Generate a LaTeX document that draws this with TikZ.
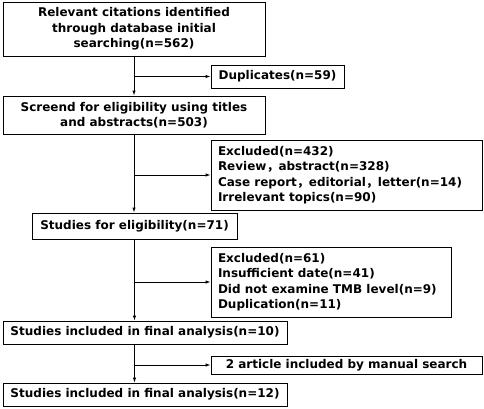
\documentclass[tikz,border=0pt]{standalone}
\usepackage{fontspec}
\setmainfont{DejaVu Sans}
\newfontfamily\cjk{Noto Sans CJK SC}
\usetikzlibrary{arrows.meta,calc}
\newcommand\fwc{{\cjk\bfseries ，}}
\begin{document}
\begin{tikzpicture}[x=1pt,y=-1pt,
  box/.style={draw,line width=0.9pt,inner sep=0pt,font=\bfseries\fontsize{12}{15.4}\selectfont},
  cbox/.style={box,align=center},
  arr/.style={line width=0.9pt,-{Latex[length=5pt,width=3.5pt]}}]
\useasboundingbox (0,0) rectangle (484,408);
\node[cbox,minimum width=262pt,minimum height=54pt] (b1) at (134,29) {Relevant citations identified\\through database initial\\searching(n=562)};
\node[cbox,minimum width=133pt,minimum height=23pt] (dup) at (277.5,76.5) {Duplicates(n=59)};
\node[cbox,minimum width=262pt,minimum height=38pt] (b2) at (134,115) {Screend for eligibility using titles\\and abstracts(n=503)};
\node[box,minimum width=271pt,minimum height=70pt] (ex1) at (346.5,175) {\begin{minipage}{257pt}Excluded(n=432)\\Review\fwc abstract(n=328)\\Case report\fwc editorial\fwc letter(n=14)\\Irrelevant topics(n=90)\end{minipage}};
\node[cbox,minimum width=205pt,minimum height=26pt] (b3) at (134.5,226) {Studies for eligibility(n=71)};
\node[box,minimum width=240pt,minimum height=70pt] (ex2) at (331,282) {\begin{minipage}{226pt}Excluded(n=61)\\Insufficient date(n=41)\\Did not examine TMB level(n=9)\\Duplication(n=11)\end{minipage}};
\node[cbox,minimum width=284pt,minimum height=23pt] (b4) at (145,332.5) {Studies included in final analysis(n=10)};
\node[cbox,minimum width=271pt,minimum height=18pt] (man) at (346.5,365) {2 article included by manual search};
\node[cbox,minimum width=284pt,minimum height=23pt] (b5) at (145,394.5) {Studies included in final analysis(n=12)};
\draw[arr] (b1.south) -- (b2.north);
\draw[arr] (b1.south |- dup.west) -- (dup.west);
\draw[arr] (b2.south) -- (b2.south |- b3.north);
\draw[arr] (b2.south |- ex1.west) -- (ex1.west);
\draw[arr] (b3.south) -- (b3.south |- b4.north);
\draw[arr] (b3.south |- ex2.west) -- (ex2.west);
\draw[arr] (b4.south -| b3.south) -- (b3.south |- b5.north);
\draw[arr] (b3.south |- man.west) -- (man.west);
\end{tikzpicture}
\end{document}
